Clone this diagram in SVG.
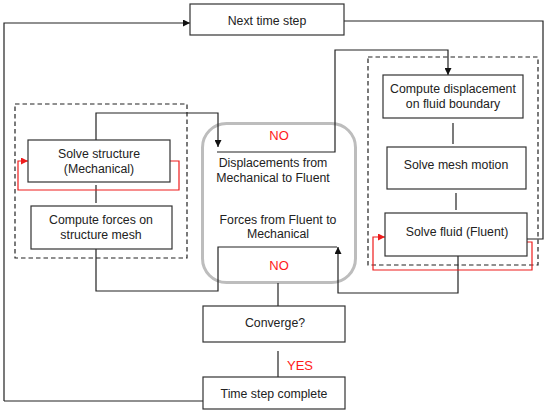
<svg xmlns="http://www.w3.org/2000/svg" width="550" height="414" viewBox="0 0 550 414">
<defs>
<marker id="ab" viewBox="0 0 10 10" refX="10" refY="5" markerWidth="7" markerHeight="7" markerUnits="userSpaceOnUse" orient="auto"><path d="M0,0 L10,5 L0,10 z" fill="#111"/></marker>
<marker id="ar" viewBox="0 0 10 10" refX="10" refY="5" markerWidth="7" markerHeight="7" markerUnits="userSpaceOnUse" orient="auto"><path d="M0,0 L10,5 L0,10 z" fill="#ee1c1c"/></marker>
</defs>
<style>
.box{fill:#fff;stroke:#333;stroke-width:1.2}
.dash{fill:none;stroke:#222;stroke-width:1.2;stroke-dasharray:4.5 3}
.ln{fill:none;stroke:#222;stroke-width:1.2}
.rl{fill:none;stroke:#ee1c1c;stroke-width:1.2}
.t{font-family:"Liberation Sans",Arial,sans-serif;font-size:12.3px;fill:#222;text-anchor:middle}
.r{font-family:"Liberation Sans",Arial,sans-serif;font-size:13px;fill:#ff1a1a}
</style>
<rect width="550" height="414" fill="#fff"/>
<g id="groups">
<rect class="dash" x="15" y="104" width="172" height="154"/>
<rect class="dash" x="368" y="57" width="170" height="208"/>
<rect id="exchange" x="202.5" y="123.5" width="153" height="159" rx="24" fill="none" stroke="#bdbdbd" stroke-width="3"/>
</g>
<g id="connectors">
<path class="ln" d="M4,401 L4,23 L190,23" marker-end="url(#ab)"/>
<path class="ln" d="M344,21 L543,21 L543,239 L527,239"/>
<path class="ln" d="M217,152 L335,152 L335,50 L448,50 L448,75" marker-end="url(#ab)"/>
<path class="ln" d="M96,140 L96,113 L218,113 L218,147" marker-end="url(#ab)"/>
<path class="ln" d="M96,185 L96,203"/>
<path class="ln" d="M96,249 L96,291 L218,291 L218,247 L337,247"/>
<path class="ln" d="M458,256 L458,293 L338,293 L338,247" marker-end="url(#ab)"/>
<path class="ln" d="M453,123 L453,144"/>
<path class="ln" d="M456,193 L456,210"/>
<path class="ln" d="M278,283 L278,306"/>
<path class="ln" d="M278,351 L278,377"/>
<path class="ln" d="M4,401 L203,401"/>
<path class="rl" d="M170,161 L179,161 L179,190 L18,190 L18,161 L28,161" marker-end="url(#ar)"/>
<path class="rl" d="M527,242 L532,242 L532,270 L373,270 L373,237 L385,237" marker-end="url(#ar)"/>
</g>
<g id="next-time-step"><rect class="box" x="190" y="4" width="154" height="31"/><text class="t" x="267" y="24.5">Next time step</text></g>
<g id="solve-structure"><rect class="box" x="28" y="140" width="142" height="42"/><text class="t" x="99" y="157.5">Solve structure</text><text class="t" x="99" y="172.5">(Mechanical)</text></g>
<g id="compute-forces"><rect class="box" x="31" y="206" width="141" height="43"/><text class="t" x="101" y="223.5">Compute forces on</text><text class="t" x="101" y="238.5">structure mesh</text></g>
<g id="exchange-labels">
<text class="r" x="279" y="140" text-anchor="middle">NO</text>
<text class="t" x="273" y="166.5">Displacements from</text>
<text class="t" x="273" y="181.5">Mechanical to Fluent</text>
<text class="t" x="278" y="223.5">Forces from Fluent to</text>
<text class="t" x="278" y="237.5">Mechanical</text>
<text class="r" x="279" y="270" text-anchor="middle">NO</text>
</g>
<g id="compute-displacement"><rect class="box" x="383" y="75" width="140" height="43"/><text class="t" x="453" y="92.5">Compute displacement</text><text class="t" x="453" y="107.5">on fluid boundary</text></g>
<g id="solve-mesh-motion"><rect class="box" x="387" y="147" width="139" height="42"/><text class="t" x="456" y="168.5">Solve mesh motion</text></g>
<g id="solve-fluid"><rect class="box" x="385" y="213" width="142" height="43"/><text class="t" x="457" y="235.5">Solve fluid (Fluent)</text></g>
<g id="converge"><rect class="box" x="203" y="306" width="142" height="36"/><text class="t" x="275" y="326.5">Converge?</text></g>
<text class="r" x="287" y="370">YES</text>
<g id="time-step-complete"><rect class="box" x="203" y="377" width="142" height="32"/><text class="t" x="274" y="397.5">Time step complete</text></g>
</svg>
